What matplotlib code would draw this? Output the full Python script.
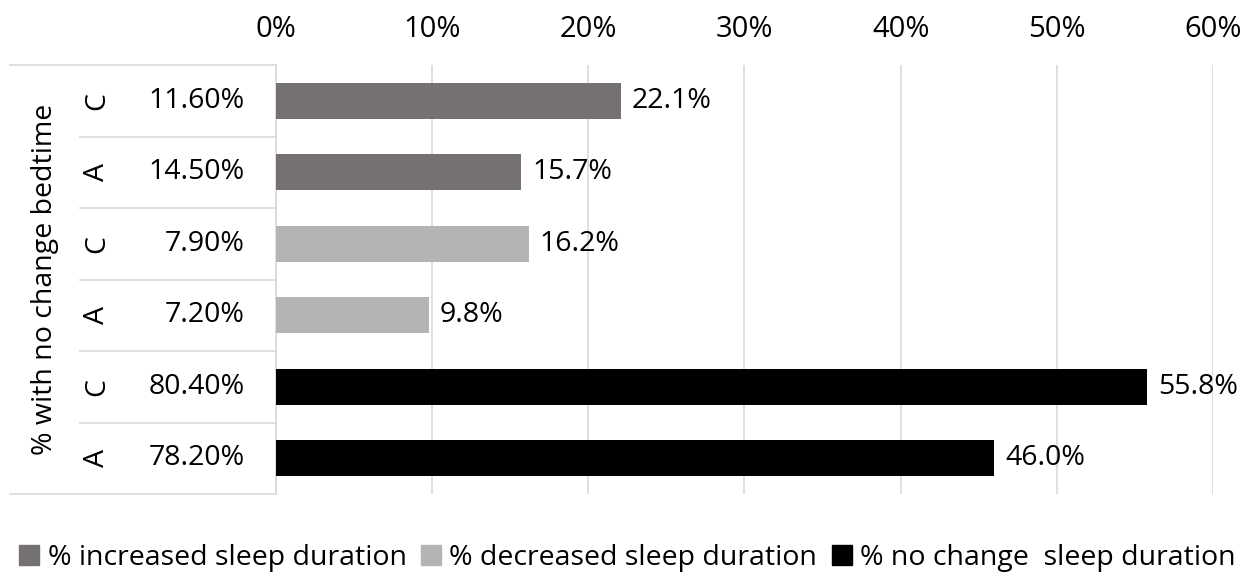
import matplotlib
matplotlib.use("Agg")
import matplotlib.pyplot as plt
from matplotlib.lines import Line2D
from matplotlib.patches import Patch

plt.rcParams['font.family'] = ['Open Sans', 'DejaVu Sans']

# rows top to bottom
groups = ["C", "A", "C", "A", "C", "A"]
bedtime_pct = ["11.60%", "14.50%", "7.90%", "7.20%", "80.40%", "78.20%"]
values = [22.1, 15.7, 16.2, 9.8, 55.8, 46.0]
series = ["increased", "increased", "decreased", "decreased", "nochange", "nochange"]
legend_labels = ["% increased sleep duration", "% decreased sleep duration",
                 "% no change  sleep duration"]
colors = {"increased": "#767171", "decreased": "#b4b4b4", "nochange": "#000000"}
outer_label = "% with no change bedtime"
xticks = [0, 10, 20, 30, 40, 50, 60]

fs = 20.5
fig = plt.figure(figsize=(12.55, 5.84), dpi=100)
ax = fig.add_axes([0.2199, 0.1541, 0.9665 - 0.2199, 0.8887 - 0.1541])

ypos = list(range(len(values)))
ax.barh(ypos, values, height=0.5, color=[colors[s] for s in series], zorder=3)
for y, v in zip(ypos, values):
    ax.text(v + 0.7, y, f"{v:.1f}%", va="center", ha="left", fontsize=fs)

ax.set_xlim(0, 60)
ax.set_ylim(len(values) - 0.5, -0.5)
ax.set_xticks(xticks)
ax.set_xticklabels([f"{t}%" for t in xticks], fontsize=21)
ax.xaxis.tick_top()
ax.tick_params(axis="x", length=0, pad=15)
ax.set_yticks([])
ax.grid(axis="x", color="#d9d9d9", linewidth=1.2, zorder=0)
for s in ["top", "right", "bottom"]:
    ax.spines[s].set_visible(False)
ax.spines["left"].set_color("#d9d9d9")
ax.spines["left"].set_linewidth(1.2)

# category table on the left
tr = ax.get_yaxis_transform()
x_outer = -0.284
x_inner = -0.209
for y, g, p in zip(ypos, groups, bedtime_pct):
    ax.text(-0.191, y, g, rotation=90, ha="center", va="center", fontsize=fs,
            transform=tr, clip_on=False)
    ax.text(-0.033, y, p, ha="right", va="center", fontsize=fs,
            transform=tr, clip_on=False)
ax.text(-0.247, (len(values) - 1) / 2, outer_label, rotation=90, ha="center",
        va="center", fontsize=fs, transform=tr, clip_on=False)
for k in range(len(values) + 1):
    yb = k - 0.5
    x0 = x_outer if k in (0, len(values)) else x_inner
    ax.add_line(Line2D([x0, 0], [yb, yb], color="#d9d9d9", linewidth=1.2,
                       transform=tr, clip_on=False))

handles = [Patch(color=colors[k]) for k in ["increased", "decreased", "nochange"]]
fig.legend(handles, legend_labels, loc="center", bbox_to_anchor=(0.5, 0.045),
           ncol=3, frameon=False, fontsize=fs, handlelength=0.7, handleheight=0.7,
           handletextpad=0.3, columnspacing=0.5)

fig.savefig("out.png", dpi=100)
